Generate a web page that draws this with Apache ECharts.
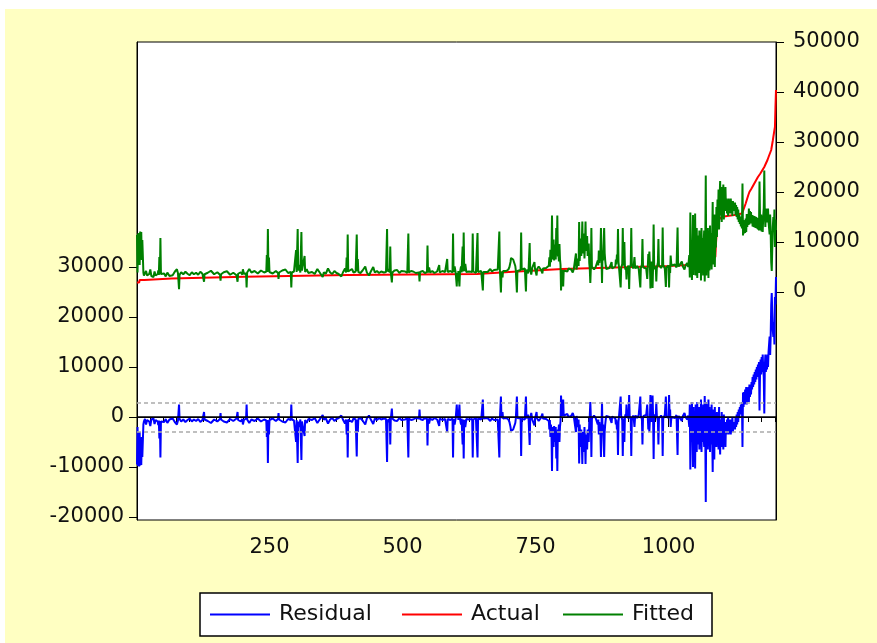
<!DOCTYPE html>
<html><head><meta charset="utf-8">
<script src="https://cdn.jsdelivr.net/npm/echarts@6/dist/echarts.min.js"></script>
<style>
html,body{margin:0;padding:0;background:#fff;}
#frame{position:absolute;left:5px;top:9px;width:872px;height:634px;background:#FFFFC2;}
#chart{position:absolute;left:0;top:0;width:877px;height:643px;}
</style></head><body>
<div id="frame"></div><div id="chart"></div>
<script>
const seriesNames = ['Residual', 'Actual', 'Fitted'];
const xMajorTicks = [250, 500, 750, 1000];
const xMinorTicks = [25,50,75,100,125,150,175,200,225,250,275,300,325,350,375,400,425,450,475,500,525,550,575,600,625,650,675,700,725,750,775,800,825,850,875,900,925,950,975,1000,1025,1050,1075,1100,1125,1150,1175,1200];
const leftTicks = [-20000, -10000, 0, 10000, 20000, 30000];
const rightTicks = [0, 10000, 20000, 30000, 40000, 50000];
const residualZero = [0];
const residualStd = [2950, -2950];

const actualPts = [[1,1900],[5,1900],[6,2400],[15,2400],[16,2700],[66,2700],[67,3050],[203,3050],[204,3400],[397,3400],[398,3600],[640,3600],[700,4000],[800,4600],[900,4900],[1000,5200],[1038,5400],[1050,5400],[1051,5800],[1065,5800],[1066,6300],[1080,6300],[1081,7000],[1088,7000],[1089,9400],[1090,11000],[1091,12000],[1092,13000],[1093,13400],[1094,14000],[1095,14500],[1100,15000],[1110,15200],[1124,15400],[1138,15700],[1140,16200],[1141,16400],[1145,17700],[1150,19400],[1152,20000],[1156,20700],[1168,23000],[1172,23600],[1180,25000],[1186,26400],[1188,27000],[1193,28400],[1196,30300],[1197,31000],[1199,31000],[1200,33000],[1201,37000],[1202,40400]];

const residualPts = [[1,-9500],[2,-2000],[3,-9800],[4,-5000],[5,-9900],[6,-3000],[7,-9700],[8,-6500],[9,-9600],[10,-4000],[11,-8000],[12,-7600],[13,-1500],[14,-900],
[16,-400],[18,-1500],[20,-600],[22,-200],[24,-900],[26,-1800],[28,-500],[30,-700],[32,-300],[34,-1400],[36,-600],[38,-400],[40,-900],[41,-1600],[42,-700],[43,-4300],[44,-800],[45,-8100],[46,-900],[48,-500],
[52,-1000],[55,-400],[58,-1200],[62,-500],[65,-900],[68,-300],[72,-1000],[75,-600],[76,-1500],[78,-700],[79,-300],[80,2500],[81,-400],[84,-900],
[88,-500],[92,-1000],[96,-600],[100,-300],[104,-900],[108,-500],[112,-800],[116,-400],[120,-1000],[124,-600],[126,-400],[127,1000],[128,-500],
[134,-800],[140,-1200],[146,-500],[152,-900],[157,-400],[158,800],[159,-500],[164,-900],[170,-1100],[176,-400],[182,-800],[188,-300],[190,1000],[191,-600],[196,-900],[199,-400],[200,-1500],[202,-600],[206,-300],[207,2500],[208,-500],[212,-1200],[216,-500],
[222,-800],[228,-300],[234,-900],[240,-500],[244,-700],[245,-4000],[246,-600],[247,-9200],[248,-700],[249,-3500],[250,-600],
[256,-300],[262,-800],[266,-400],[267,800],[268,-500],[274,-900],[280,-1100],[285,-400],[290,-600],[291,2500],[292,-500],[296,-700],[299,-300],[300,-5000],[301,-600],[302,-400],[303,-9200],[304,-900],[306,-2000],[308,-500],[309,-300],[310,-8600],[311,-900],[314,-500],[316,-3800],[317,-600],[320,-1200],[323,-400],
[330,-600],[335,-200],[340,-1200],[345,-400],[350,400],[352,-500],[356,-300],[360,-1300],[364,-500],[368,-200],[372,-800],[376,-400],[380,-200],[385,300],[388,-500],[392,-1300],[394,-500],[395,-3500],[396,-600],[397,-8100],[398,-500],[401,-300],
[405,-1000],[408,-300],[412,-500],[413,-200],[414,-7900],[415,-600],[416,-3000],[417,-400],[421,-200],[425,-700],[430,-1500],[433,-300],[437,300],[440,-400],[445,-1400],[448,-300],[452,-600],[456,-200],[460,-500],[465,-300],[469,-400],[470,-200],[471,-9000],[472,-500],[474,-1000],[476,-300],[477,-5500],[478,-400],[480,1700],[481,-300],[485,-700],[490,-800],[494,-200],[498,-600],[500,-300],[505,-500],[509,-200],[510,-400],[511,-8100],[512,-300],[516,-600],[520,-500],[525,-200],[531,-300],[532,1500],[533,-400],[538,-600],[542,-200],[546,-400],[547,-5700],[548,-300],[550,-1300],[552,-300],[556,-600],[560,-200],[565,-500],[569,-1800],[570,-300],[575,-600],[580,-400],[583,-200],[584,-3000],[585,-400],[590,-600],[594,-300],[595,-8100],[596,-400],[598,-1500],[600,-200],[602,2500],[603,-200],[604,1200],[605,-600],[607,2500],[608,-300],[610,-1500],[611,-300],[613,-5500],[614,-500],[615,-8300],[616,-600],[618,-2000],[620,-400],[625,-500],[628,-200],[631,-400],[632,-8100],[633,-500],[636,-800],[638,-200],[640,-400],
[641,-8100],[642,-300],[645,-300],[648,-500],[650,-200],[651,3500],[652,-300],[655,-500],[660,-200],[665,-800],[668,-300],[672,-600],[675,-300],[679,-500],[681,-300],[682,-8100],[683,-400],[685,4100],[686,-200],[688,1000],[689,-300],[692,-600],[695,-200],[699,-500],[701,-1000],[703,-2000],[704,-2800],[706,-3000],[708,-2500],[710,-2900],[712,-1200],[713,-300],[715,4100],[716,-200],[719,-500],[722,-300],[723,-7800],[724,-400],[727,-300],[730,-500],[732,4100],[733,-300],[736,500],[737,-400],[739,-5600],[740,-300],[742,800],[744,-600],[746,-300],[748,-1700],[749,-400],[752,1000],[753,-300],[756,-800],[758,-600],[760,-200],[763,700],[764,-300],[767,-600],[770,-400],[773,-300],
[775,-800],[776,-2500],[777,-600],[778,-4000],[779,-1500],[780,-3000],[781,-10800],[782,-2000],[783,-4500],[784,-6000],[785,-1800],[786,-3500],[787,-5000],[788,-2000],[789,-8300],[790,-3000],[791,-10800],[792,-2500],[793,-3000],[794,-1500],[795,-5000],[796,-2000],[797,-800],
[798,4300],[799,500],[800,1000],[801,200],[802,3500],[803,300],
[806,100],[810,600],[812,0],[815,-400],[817,200],[820,800],[822,100],[825,300],[826,-3000],[827,200],[829,0],[830,-2000],[831,-500],[832,-9300],[833,-1500],[834,-4000],[835,-6000],[836,-2500],[837,-5000],[838,-9400],[839,-3000],[840,-5500],[841,-7000],[842,-2000],[843,-4500],[844,-9400],[845,-3500],[846,-5500],[847,-6500],[848,-2500],[849,-4000],[850,-5000],
[851,-1000],[852,200],[853,3000],[854,0],[855,-8000],[856,-300],[857,100],[860,300],[863,-200],[866,200],[867,-1500],[868,-500],[869,-3500],[870,-1000],[871,-2500],[872,-3200],[873,-8000],[874,-2000],[875,3000],[876,-3500],[877,-1500],[878,-1200],[879,-8000],[880,-3000],[881,-1500],[882,-500],[883,200],[886,400],[889,0],[892,300],[893,-1200],[894,100],[897,300],[900,-300],
[901,-1500],[902,-500],[903,-2500],[904,-1200],[905,-7600],[906,-1000],[907,200],[909,0],[910,4100],[911,200],[912,0],[913,-600],[914,-7800],[915,-1000],[916,-300],[917,-5000],[918,-200],[919,500],[920,0],[921,2500],[922,200],[923,1000],[924,-300],[925,200],[926,4400],[927,100],[928,0],[929,-500],[930,-7800],[931,-400],[932,-200],[934,300],[936,-2000],[937,-300],[938,300],[941,-200],[944,400],[946,100],[947,4100],[948,200],[949,0],[950,-500],
[951,-5500],[952,-300],[953,200],[956,-100],[958,400],[960,2500],[961,100],[962,-2500],[963,-1000],[964,-3000],[965,-500],[966,4400],[967,200],[968,-1000],[969,300],[970,4300],[971,0],[972,-8400],[973,-200],[974,500],[976,0],[977,3000],[978,300],[979,0],[980,-800],[981,-5500],[982,-300],[983,0],[986,300],[988,-200],[989,-7800],[990,-300],[991,0],[993,400],[994,100],[995,4100],[996,200],[997,0],[999,300],[1000,-200],
[1001,4400],[1002,500],[1003,1500],[1004,-2000],[1005,-500],[1006,0],[1009,300],[1012,-200],[1015,400],[1016,0],[1017,-7600],[1018,-300],[1019,200],[1022,0],[1025,-800],[1027,200],[1030,800],[1032,0],[1035,-500],[1037,300],[1038,0],
[1039,-2000],[1040,2500],[1041,-10500],[1042,1500],[1043,-5000],[1044,3000],[1045,-3000],[1046,-10000],[1047,2000],[1048,-6000],[1049,1000],[1050,-10300],[1051,2500],[1052,-4000],[1053,-7000],[1054,3000],[1055,-2000],[1056,-5500],[1057,2000],[1058,-6500],[1059,500],[1060,-4500],[1061,3500],[1062,-7000],[1063,1500],[1064,-5000],[1065,2500],[1066,-3500],[1067,-6000],[1068,4200],[1069,-2500],[1070,-17000],[1071,3000],[1072,-5000],[1073,1000],[1074,-6500],[1075,3500],[1076,-4000],[1077,2000],[1078,-7000],[1079,1000],[1080,-5500],[1081,2500],[1082,-3000],[1083,-11000],[1084,1500],[1085,-6000],[1086,-8500],[1087,2000],[1088,-5000],[1089,500],
[1090,-6000],[1091,1000],[1092,-5500],[1093,-1000],[1094,-6500],[1095,2000],[1096,-4000],[1097,-7500],[1098,-500],[1099,-5000],[1100,1000],[1101,-6000],[1102,-1500],[1103,-6500],[1104,500],[1105,-5000],[1106,-2000],[1107,-6000],[1108,-1000],
[1109,-3500],[1110,-500],[1111,-3000],[1112,0],[1113,-3500],[1114,-1000],[1115,-3000],[1116,-500],[1117,-3500],[1118,-1500],[1119,-2500],[1120,0],[1121,-3000],[1122,-1000],[1123,-2500],
[1124,-1000],[1125,-2500],[1126,0],[1127,-2000],[1128,500],[1129,-1500],[1130,1000],[1131,-1000],[1132,1500],[1133,0],[1134,2000],[1135,500],[1136,2500],[1137,1000],[1138,3000],[1139,-6000],[1140,4900],
[1141,2000],[1142,5000],[1143,2500],[1144,5500],[1145,3000],[1146,6000],[1147,2500],[1148,5500],[1149,3500],[1150,6000],[1151,3000],[1152,6500],[1153,4000],[1154,6000],[1155,4500],
[1156,7000],[1157,5500],[1158,8000],[1159,6000],[1160,8500],[1161,6500],[1162,9000],[1163,7000],[1164,9500],[1165,7500],[1166,10000],[1167,8000],[1168,10500],[1169,8500],[1170,11000],[1171,1300],[1172,9000],
[1173,11500],[1174,8500],[1175,12000],[1176,9000],[1177,12500],[1178,9500],[1179,8000],[1180,700],[1181,10000],[1182,12500],[1183,9000],[1184,12000],[1185,9500],[1186,12500],[1187,10000],[1188,13000],
[1189,13300],[1190,16100],[1191,12400],[1192,16100],[1193,22400],[1194,24800],[1195,20700],[1196,17300],[1197,16000],[1198,19000],[1199,14500],[1200,24000],[1201,22500],[1202,28000]];

const fittedPts = [[1,11400],[2,3900],[3,11700],[4,6900],[5,11800],[6,5400],[7,12100],[8,8900],[9,12000],[10,6400],[11,10400],[12,10000],[13,3900],[14,3300],
[16,3100],[18,4200],[20,3300],[22,2900],[24,3600],[26,4500],[28,3200],[30,3400],[32,3000],[34,4100],[36,3300],[38,3100],[40,3600],[41,4300],[42,3400],[43,7000],[44,3500],[45,10800],[46,3600],[48,3200],
[52,3700],[55,3100],[58,3900],[62,3200],[65,3600],[68,3350],[72,4050],[75,3650],[76,4550],[78,3750],[79,3350],[80,550],[81,3450],[84,3950],
[88,3550],[92,4050],[96,3650],[100,3350],[104,3950],[108,3550],[112,3850],[116,3450],[120,4050],[124,3650],[126,3450],[127,2050],[128,3550],
[134,3850],[140,4250],[146,3550],[152,3950],[157,3450],[158,2250],[159,3550],[164,3950],[170,4150],[176,3450],[182,3850],[188,3350],[190,2050],[191,3650],[196,3950],[199,3450],[200,4550],[202,3650],[206,3700],[207,900],[208,3900],[212,4600],[216,3900],
[222,4200],[228,3700],[234,4300],[240,3900],[244,4100],[245,7400],[246,4000],[247,12600],[248,4100],[249,6900],[250,4000],
[256,3700],[262,4200],[266,3800],[267,2600],[268,3900],[274,4300],[280,4500],[285,3800],[290,4000],[291,900],[292,3900],[296,4100],[299,3700],[300,8400],[301,4000],[302,3800],[303,12600],[304,4300],[306,5400],[308,3900],[309,3700],[310,12000],[311,4300],[314,3900],[316,7200],[317,4000],[320,4600],[323,3800],
[330,4000],[335,3600],[340,4600],[345,3800],[350,3000],[352,3900],[356,3700],[360,4700],[364,3900],[368,3600],[372,4200],[376,3800],[380,3600],[385,3100],[388,3900],[392,4700],[394,3900],[395,6900],[396,4000],[397,11500],[398,4100],[401,3900],
[405,4600],[408,3900],[412,4100],[413,3800],[414,11500],[415,4200],[416,6600],[417,4000],[421,3800],[425,4300],[430,5100],[433,3900],[437,3300],[440,4000],[445,5000],[448,3900],[452,4200],[456,3800],[460,4100],[465,3900],[469,4000],[470,3800],[471,12600],[472,4100],[474,4600],[476,3900],[477,9100],[478,4000],[480,1900],[481,3900],[485,4300],[490,4400],[494,3800],[498,4200],[500,3900],[505,4100],[509,3800],[510,4000],[511,11700],[512,3900],[516,4200],[520,4100],[525,3800],[531,3900],[532,2100],[533,4000],[538,4200],[542,3800],[546,4000],[547,9300],[548,3900],[550,4900],[552,3900],[556,4200],[560,3800],[565,4100],[569,5400],[570,3900],[575,4200],[580,4000],[583,3800],[584,6600],[585,4000],[590,4200],[594,3900],[595,11700],[596,4000],[598,5100],[600,3800],[602,1100],[603,3800],[604,2400],[605,4200],[607,1100],[608,3900],[610,5100],[611,3900],[613,9100],[614,4100],[615,11900],[616,4200],[618,5600],[620,4000],[625,4100],[628,3800],[631,4000],[632,11700],[633,4100],[636,4400],[638,3800],[640,4000],
[641,11800],[642,4000],[645,4000],[648,4200],[650,3900],[651,300],[652,4000],[655,4300],[660,4000],[665,4600],[668,4100],[672,4400],[675,4200],[679,4500],[681,4300],[682,12100],[683,4400],[685,-100],[686,4100],[688,2900],[689,4200],[692,4500],[695,4200],[699,4500],[701,5000],[703,6000],[704,6800],[706,7000],[708,6500],[710,6900],[712,5200],[713,4300],[715,-100],[716,4200],[719,4600],[722,4400],[723,11900],[724,4500],[727,4500],[730,4700],[732,100],[733,4500],[736,3700],[737,4600],[739,9800],[740,4500],[742,3500],[744,4900],[746,4600],[748,6000],[749,4700],[752,3300],[753,4600],[756,5100],[758,4900],[760,4500],[763,3700],[764,4700],[767,5000],[770,4800],[773,4700],
[775,5250],[776,6950],[777,5050],[778,8450],[779,5950],[780,7450],[781,15300],[782,6500],[783,9000],[784,10500],[785,6300],[786,8000],[787,9500],[788,6500],[789,12800],[790,7500],[791,15300],[792,7100],[793,7600],[794,6100],[795,9600],[796,6600],[797,5400],
[798,300],[799,4100],[800,3600],[801,4400],[802,1100],[803,4300],
[806,4600],[810,4100],[812,4700],[815,5100],[817,4500],[820,3900],[822,4600],[825,4400],[826,7700],[827,4500],[829,4700],[830,6700],[831,5200],[832,14000],[833,6200],[834,8700],[835,10700],[836,7200],[837,9700],[838,14100],[839,7700],[840,10200],[841,11700],[842,6700],[843,9200],[844,14100],[845,8200],[846,10200],[847,11200],[848,7200],[849,8700],[850,9700],
[851,5800],[852,4600],[853,1800],[854,4800],[855,12800],[856,5100],[857,4700],[860,4500],[863,5000],[866,4600],[867,6300],[868,5300],[869,8300],[870,5800],[871,7300],[872,8000],[873,12800],[874,6800],[875,1800],[876,8300],[877,6300],[878,6000],[879,12800],[880,7800],[881,6300],[882,5300],[883,4600],[886,4400],[889,4800],[892,4500],[893,6000],[894,4700],[897,4500],[900,5100],
[901,6500],[902,5500],[903,7500],[904,6200],[905,12600],[906,6000],[907,4800],[909,5000],[910,900],[911,4800],[912,5000],[913,5600],[914,12800],[915,6000],[916,5300],[917,10000],[918,5200],[919,4500],[920,5000],[921,2500],[922,4800],[923,4000],[924,5300],[925,4800],[926,600],[927,4900],[928,5000],[929,5500],[930,12800],[931,5400],[932,5200],[934,4700],[936,7000],[937,5300],[938,4700],[941,5200],[944,4600],[946,4900],[947,900],[948,4800],[949,5000],[950,5500],
[951,10600],[952,5400],[953,4900],[956,5200],[958,4700],[960,2600],[961,5000],[962,7600],[963,6100],[964,8100],[965,5600],[966,700],[967,4900],[968,6100],[969,4800],[970,800],[971,5100],[972,13500],[973,5300],[974,4600],[976,5100],[977,2100],[978,4800],[979,5100],[980,5900],[981,10600],[982,5400],[983,5100],[986,4800],[988,5300],[989,12900],[990,5400],[991,5100],[993,4700],[994,5000],[995,1000],[996,4900],[997,5100],[999,4800],[1000,5300],
[1001,900],[1002,4800],[1003,3800],[1004,7300],[1005,5800],[1006,5300],[1009,5000],[1012,5500],[1015,4900],[1016,5300],[1017,12900],[1018,5600],[1019,5100],[1022,5300],[1025,6100],[1027,5100],[1030,4500],[1032,5300],[1035,5800],[1037,5000],[1038,5300],
[1039,7400],[1040,2900],[1041,15900],[1042,3900],[1043,10400],[1044,2400],[1045,8400],[1046,15400],[1047,3400],[1048,11400],[1049,4400],[1050,15700],[1051,3300],[1052,9800],[1053,12800],[1054,2800],[1055,7800],[1056,11300],[1057,3800],[1058,12300],[1059,5300],[1060,10300],[1061,2300],[1062,12800],[1063,4300],[1064,10800],[1065,3300],[1066,9800],[1067,12300],[1068,2100],[1069,8800],[1070,23300],[1071,3300],[1072,11300],[1073,5300],[1074,12800],[1075,2800],[1076,10300],[1077,4300],[1078,13300],[1079,5300],[1080,11800],[1081,4500],[1082,10000],[1083,18000],[1084,5500],[1085,13000],[1086,15500],[1087,5000],[1088,12000],[1089,8900],
[1090,17000],[1091,11000],[1092,18500],[1093,14400],[1094,20500],[1095,12500],[1096,18600],[1097,22200],[1098,15300],[1099,19900],[1100,14000],[1101,21000],[1102,16500],[1103,21500],[1104,14500],[1105,20000],[1106,17000],[1107,21000],[1108,16200],
[1109,18700],[1110,15700],[1111,18200],[1112,15200],[1113,18700],[1114,16200],[1115,18200],[1116,15700],[1117,18700],[1118,16700],[1119,17700],[1120,15200],[1121,18200],[1122,16200],[1123,17700],
[1124,16400],[1125,17900],[1126,15400],[1127,17400],[1128,15000],[1129,17000],[1130,14500],[1131,16500],[1132,14000],[1133,15500],[1134,13600],[1135,15100],[1136,13100],[1137,14600],[1138,12700],[1139,21700],[1140,11300],
[1141,14400],[1142,11700],[1143,14200],[1144,11800],[1145,14700],[1146,12000],[1147,15600],[1148,13000],[1149,15600],[1150,13400],[1151,16700],[1152,13500],[1153,16200],[1154,14700],[1155,16000],
[1156,13700],[1157,15400],[1158,13100],[1159,15300],[1160,13000],[1161,15200],[1162,12900],[1163,15100],[1164,12800],[1165,15000],[1166,12700],[1167,14800],[1168,12500],[1169,14700],[1170,12300],[1171,22100],[1172,14600],
[1173,12300],[1174,15500],[1175,12100],[1176,15300],[1177,12000],[1178,15200],[1179,16800],[1180,24300],[1181,15200],[1182,13000],[1183,16700],[1184,13900],[1185,16600],[1186,13900],[1187,16700],[1188,14000],
[1189,14000],[1190,11500],[1191,15500],[1192,12000],[1193,6000],[1194,4200],[1195,9000],[1196,13000],[1197,15000],[1198,12000],[1199,16500],[1200,9000],[1201,14500],[1202,12400]];

const FONT = 'DejaVu Sans';
const chart = echarts.init(document.getElementById('chart'), null, {renderer: 'canvas'});
const gridBox = {left: 137, top: 42, width: 639, height: 478};
const plainNumber = v => String(Math.round(v));
const labelStyle = {color: '#111', fontSize: 21, fontFamily: FONT, formatter: plainNumber};
const legendKeys = {Residual: 'res', Actual: 'act', Fitted: 'fit'};
const legendText = {color: '#111', fontSize: 22, fontFamily: FONT, lineHeight: 25};

chart.setOption({
  animation: false,
  grid: [
    Object.assign({show: true, backgroundColor: '#fff', borderColor: '#000', borderWidth: 1, outerBoundsMode: 'none'}, gridBox),
    Object.assign({show: false, outerBoundsMode: 'none'}, gridBox)
  ],
  legend: {
    data: seriesNames,
    left: 200, top: 593,
    orient: 'horizontal',
    icon: 'rect',
    backgroundColor: '#fff', borderColor: '#000', borderWidth: 1.5,
    padding: [9, 17, 9, 10],
    itemWidth: 60, itemHeight: 2, itemGap: 22,
    formatter: name => '{' + legendKeys[name] + '|' + name + '}',
    textStyle: Object.assign({padding: [0, 0, 0, 4],
      rich: {
        res: Object.assign({width: 101}, legendText),
        act: Object.assign({width: 70}, legendText),
        fit: Object.assign({width: 63}, legendText)
      }}, legendText)
  },
  xAxis: [
    {gridIndex: 0, type: 'value', min: 1, max: 1202, position: 'bottom',
     axisLine: {show: true, lineStyle: {color: '#000', width: 1}},
     axisTick: {show: true, customValues: xMinorTicks, length: 5, lineStyle: {color: '#000', width: 1}},
     axisLabel: {show: false}, splitLine: {show: false}},
    {gridIndex: 1, type: 'value', min: 1, max: 1202, position: 'bottom',
     axisLine: {show: false},
     axisTick: {show: true, customValues: xMajorTicks, length: 10, lineStyle: {color: '#000', width: 1}},
     axisLabel: Object.assign({customValues: xMajorTicks, margin: 17}, labelStyle), splitLine: {show: false}}
  ],
  yAxis: [
    {gridIndex: 0, type: 'value', min: -20600, max: 75000, position: 'left',
     axisLine: {show: true, lineStyle: {color: '#000', width: 1}},
     axisTick: {show: true, customValues: leftTicks, length: 8, lineStyle: {color: '#000', width: 1}},
     axisLabel: Object.assign({customValues: leftTicks, margin: 13}, labelStyle), splitLine: {show: false}},
    {gridIndex: 0, type: 'value', min: -45600, max: 50000, position: 'right',
     axisLine: {show: true, lineStyle: {color: '#000', width: 1}},
     axisTick: {show: true, customValues: rightTicks, length: 8, lineStyle: {color: '#000', width: 1}},
     axisLabel: Object.assign({customValues: rightTicks, margin: 17}, labelStyle), splitLine: {show: false}},
    {gridIndex: 1, type: 'value', show: false, min: -20600, max: 75000}
  ],
  series: [
    {name: 'Residual', type: 'line', xAxisIndex: 0, yAxisIndex: 0, data: residualPts,
     symbol: 'none', showSymbol: false, color: '#0000FF', lineStyle: {color: '#0000FF', width: 2}, z: 2,
     markLine: {silent: true, symbol: ['none', 'none'], label: {show: false}, animation: false,
       data: residualZero.map(v => ({yAxis: v, lineStyle: {color: '#000', type: 'solid', width: 1.5}}))
         .concat(residualStd.map(v => ({yAxis: v, lineStyle: {color: '#aaaaaa', type: [4, 3], width: 1.5}})))}},
    {name: 'Actual', type: 'line', xAxisIndex: 0, yAxisIndex: 1, data: actualPts,
     symbol: 'none', showSymbol: false, color: '#FF0000', lineStyle: {color: '#FF0000', width: 2}, z: 3},
    {name: 'Fitted', type: 'line', xAxisIndex: 0, yAxisIndex: 1, data: fittedPts,
     symbol: 'none', showSymbol: false, color: '#008000', lineStyle: {color: '#008000', width: 2}, z: 4}
  ]
});
</script>
</body></html>
